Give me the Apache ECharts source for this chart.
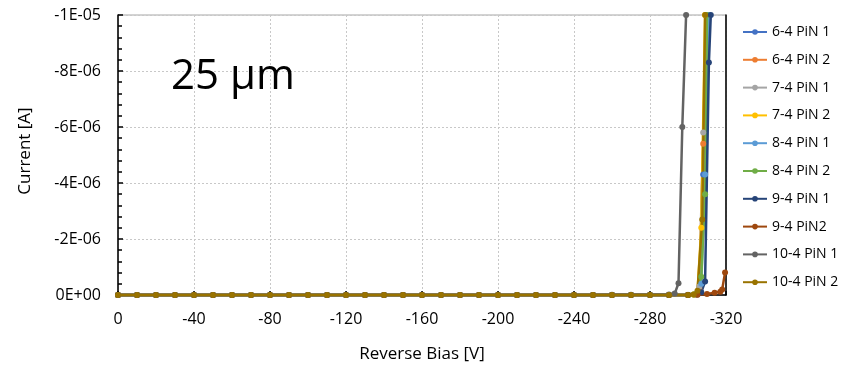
<!DOCTYPE html>
<html>
<head>
<meta charset="utf-8">
<script src="https://cdn.jsdelivr.net/npm/echarts@6/dist/echarts.min.js"></script>
<style>
  html, body { margin: 0; padding: 0; background: #fff; }
  #chart { width: 842px; height: 366px; }
</style>
</head>
<body>
<div id="chart"></div>
<script>
// Reverse-bias I-V sweeps of 25 um PiN diodes.
// Low-bias sweep points, volts (0 V down to -300 V)
const sweepV = [0, -10, -20, -30, -40, -50, -60, -70, -80, -90, -100, -110, -120, -130, -140, -150,
  -160, -170, -180, -190, -200, -210, -220, -230, -240, -250, -260, -270, -280, -290, -300];

// Leakage current along the sweep, nA
const leak64p1 = [0, -0.4, -0.6, -0.7, -0.8, -0.9, -0.9, -1.0, -1.0, -1.1, -1.1, -1.2, -1.2, -1.2, -1.3, -1.3, -1.4, -1.4, -1.5, -1.5, -1.6, -1.6, -1.7, -1.8, -1.9, -2.0, -2.2, -2.4, -2.7, -3.1, -3.8];
const leak64p2 = [0, -0.3, -0.5, -0.6, -0.7, -0.7, -0.8, -0.8, -0.9, -0.9, -1.0, -1.0, -1.1, -1.1, -1.1, -1.2, -1.2, -1.3, -1.3, -1.4, -1.4, -1.5, -1.6, -1.7, -1.8, -1.9, -2.1, -2.3, -2.6, -3.0, -3.6];
const leak74p1 = [0, -0.5, -0.7, -0.8, -0.9, -1.0, -1.1, -1.1, -1.2, -1.2, -1.3, -1.3, -1.4, -1.4, -1.5, -1.5, -1.6, -1.6, -1.7, -1.8, -1.8, -1.9, -2.0, -2.1, -2.2, -2.4, -2.6, -2.8, -3.2, -3.7, -4.5];
const leak74p2 = [0, -0.4, -0.5, -0.6, -0.7, -0.8, -0.8, -0.9, -0.9, -1.0, -1.0, -1.1, -1.1, -1.2, -1.2, -1.3, -1.3, -1.4, -1.4, -1.5, -1.6, -1.6, -1.7, -1.8, -2.0, -2.1, -2.3, -2.6, -2.9, -3.4, -4.2];
const leak84p1 = [0, -0.3, -0.4, -0.5, -0.6, -0.6, -0.7, -0.7, -0.8, -0.8, -0.9, -0.9, -0.9, -1.0, -1.0, -1.1, -1.1, -1.2, -1.2, -1.3, -1.3, -1.4, -1.5, -1.5, -1.6, -1.8, -1.9, -2.1, -2.4, -2.8, -3.3];
const leak84p2 = [0, -0.4, -0.6, -0.7, -0.8, -0.8, -0.9, -1.0, -1.0, -1.1, -1.1, -1.2, -1.2, -1.3, -1.3, -1.4, -1.4, -1.5, -1.5, -1.6, -1.7, -1.7, -1.8, -1.9, -2.0, -2.2, -2.4, -2.6, -2.9, -3.3, -4.0];
const leak94p1 = [0, -0.3, -0.5, -0.5, -0.6, -0.7, -0.7, -0.8, -0.8, -0.9, -0.9, -1.0, -1.0, -1.0, -1.1, -1.1, -1.2, -1.2, -1.3, -1.3, -1.4, -1.4, -1.5, -1.6, -1.7, -1.8, -1.9, -2.1, -2.3, -2.7, -3.2];
const leak94p2 = [0, -0.6, -0.8, -1.0, -1.1, -1.2, -1.3, -1.4, -1.4, -1.5, -1.6, -1.6, -1.7, -1.8, -1.8, -1.9, -2.0, -2.0, -2.1, -2.2, -2.3, -2.4, -2.5, -2.6, -2.7, -2.8, -3.0, -3.1, -3.3, -3.5, -3.8];
const leak104p1 = [0, -0.5, -0.7, -0.9, -1.0, -1.1, -1.2, -1.2, -1.3, -1.4, -1.4, -1.5, -1.6, -1.6, -1.7, -1.8, -1.9, -2.0, -2.1, -2.2, -2.4, -2.6, -2.8, -3.1, -3.5, -4.0, -4.8, -6.0, -8.5, -14.0];
const leak104p2 = [0, -0.4, -0.6, -0.7, -0.8, -0.9, -1.0, -1.0, -1.1, -1.1, -1.2, -1.2, -1.3, -1.3, -1.4, -1.4, -1.5, -1.5, -1.6, -1.7, -1.7, -1.8, -1.9, -2.0, -2.1, -2.3, -2.5, -2.7, -3.0, -3.5, -4.3];

// Breakdown region, [V, uA]; readings stop at the -10 uA compliance
const tail64p1 = [[-304, -0.02], [-306, -0.15], [-308, -4.3], [-310, -10]];
const tail64p2 = [[-304, -0.02], [-306, -0.2], [-308, -5.4], [-310, -10]];
const tail74p1 = [[-304, -0.03], [-306, -0.3], [-308, -5.8], [-310, -10]];
const tail74p2 = [[-303, -0.02], [-305, -0.1], [-307, -2.4], [-309, -10]];
const tail84p1 = [[-304, -0.03], [-307, -0.4], [-309, -4.3], [-311, -10]];
const tail84p2 = [[-303, -0.02], [-305, -0.1], [-307, -0.65], [-309, -3.6], [-310, -10]];
const tail94p1 = [[-305, -0.02], [-307, -0.1], [-309, -0.48], [-311, -8.3], [-312, -10]];
const tail94p2 = [[-305, -0.01], [-310, -0.04], [-314, -0.08], [-317, -0.12], [-318, -0.2], [-319.5, -0.8]];
const tail104p1 = [[-293, -0.05], [-295, -0.42], [-297, -6.0], [-299, -10]];
const tail104p2 = [[-303, -0.02], [-305, -0.15], [-307.5, -2.7], [-309, -10]];

const seriesNames = ['6-4 PiN 1', '6-4 PiN 2', '7-4 PiN 1', '7-4 PiN 2', '8-4 PiN 1',
  '8-4 PiN 2', '9-4 PiN 1', '9-4 PiN2', '10-4 PiN 1', '10-4 PiN 2'];
const seriesColors = ['#4472C4', '#ED7D31', '#A5A5A5', '#FFC000', '#5B9BD5',
  '#70AD47', '#264478', '#9E480E', '#636363', '#997300'];
const leakSets = [leak64p1, leak64p2, leak74p1, leak74p2, leak84p1, leak84p2, leak94p1, leak94p2, leak104p1, leak104p2];
const tailSets = [tail64p1, tail64p2, tail74p1, tail74p2, tail84p1, tail84p2, tail94p1, tail94p2, tail104p1, tail104p2];

// Axis ticks
const xTicks = { min: -320, max: 0, step: 40 };
const yTicks = { min: -1e-5, max: 0, step: 2e-6 };

function buildPoints(leak, tail) {
  const pts = leak.map((nA, i) => [sweepV[i], nA * 1e-9]);
  tail.forEach(([v, uA]) => pts.push([v, uA * 1e-6]));
  return pts;
}

function sciLabel(v) {
  if (Math.abs(v) < 1e-12) return '0E+00';
  const e = Math.floor(Math.log10(Math.abs(v)) + 1e-9);
  const m = Math.round(v / Math.pow(10, e));
  return m + 'E' + (e < 0 ? '-' : '+') + String(Math.abs(e)).padStart(2, '0');
}

const FONT = '"Open Sans", sans-serif';
const chart = echarts.init(document.getElementById('chart'), null, { renderer: 'canvas' });

const series = seriesNames.map((name, i) => ({
  name: name,
  type: 'line',
  data: buildPoints(leakSets[i], tailSets[i]),
  color: seriesColors[i],
  symbol: 'circle',
  symbolSize: 6,
  showAllSymbol: true,
  clip: false,
  lineStyle: { width: 2.5 },
  emphasis: { disabled: true },
  animation: false
}));

chart.setOption({
  animation: false,
  grid: { left: 118, right: 116, top: 15, bottom: 71, show: true, borderColor: '#a6a6a6', borderWidth: 1 },
  xAxis: {
    type: 'value', min: xTicks.min, max: xTicks.max, interval: xTicks.step, inverse: true,
    axisLine: { onZero: false, lineStyle: { color: '#000', width: 1.5 } },
    axisTick: { inside: true, length: 4, lineStyle: { color: '#000', width: 1.5 } },
    axisLabel: { color: '#000', fontFamily: FONT, fontSize: 16, margin: 16,
      formatter: v => (v === 0 ? '0' : String(Math.round(v))) },
    splitLine: { show: true, lineStyle: { color: '#c8c8c8', type: [2, 2], width: 1 } }
  },
  yAxis: [{
    type: 'value', min: yTicks.min, max: yTicks.max, interval: yTicks.step, inverse: true,
    axisLine: { show: true, onZero: false, lineStyle: { color: '#000', width: 1.5 } },
    axisTick: { show: true, inside: true, length: 5, lineStyle: { color: '#000', width: 1.5 } },
    minorTick: { show: true, splitNumber: 5, length: 4, lineStyle: { color: '#000', width: 1.5 } },
    axisLabel: { color: '#000', fontFamily: FONT, fontSize: 16, margin: 17, formatter: sciLabel },
    splitLine: { show: true, lineStyle: { color: '#c8c8c8', type: [2, 2], width: 1 } }
  }, {
    type: 'value', position: 'right', min: yTicks.min, max: yTicks.max, interval: yTicks.step, inverse: true,
    axisLine: { show: true, onZero: false, lineStyle: { color: '#000', width: 1.5 } },
    axisTick: { show: false }, axisLabel: { show: false }, splitLine: { show: false }
  }],
  legend: {
    orient: 'vertical', left: 737, top: 20,
    itemWidth: 24, itemHeight: 7, itemGap: 13.8,
    textStyle: { color: '#000', fontFamily: FONT, fontSize: 14, lineHeight: 14 },
    data: seriesNames
  },
  graphic: [
    { type: 'text', left: 171, top: 56, z: 10,
      style: { text: '25 μm', font: '42px "Open Sans", sans-serif', fill: '#000' } },
    { type: 'text', x: 25, y: 151, rotation: Math.PI / 2, z: 10,
      style: { text: 'Current [A]', font: '17px "Open Sans", sans-serif', fill: '#000', align: 'center', verticalAlign: 'middle' } },
    { type: 'text', x: 422, y: 354, z: 10,
      style: { text: 'Reverse Bias [V]', font: '17px "Open Sans", sans-serif', fill: '#000', align: 'center', verticalAlign: 'middle' } }
  ],
  series: series
});
</script>
</body>
</html>
